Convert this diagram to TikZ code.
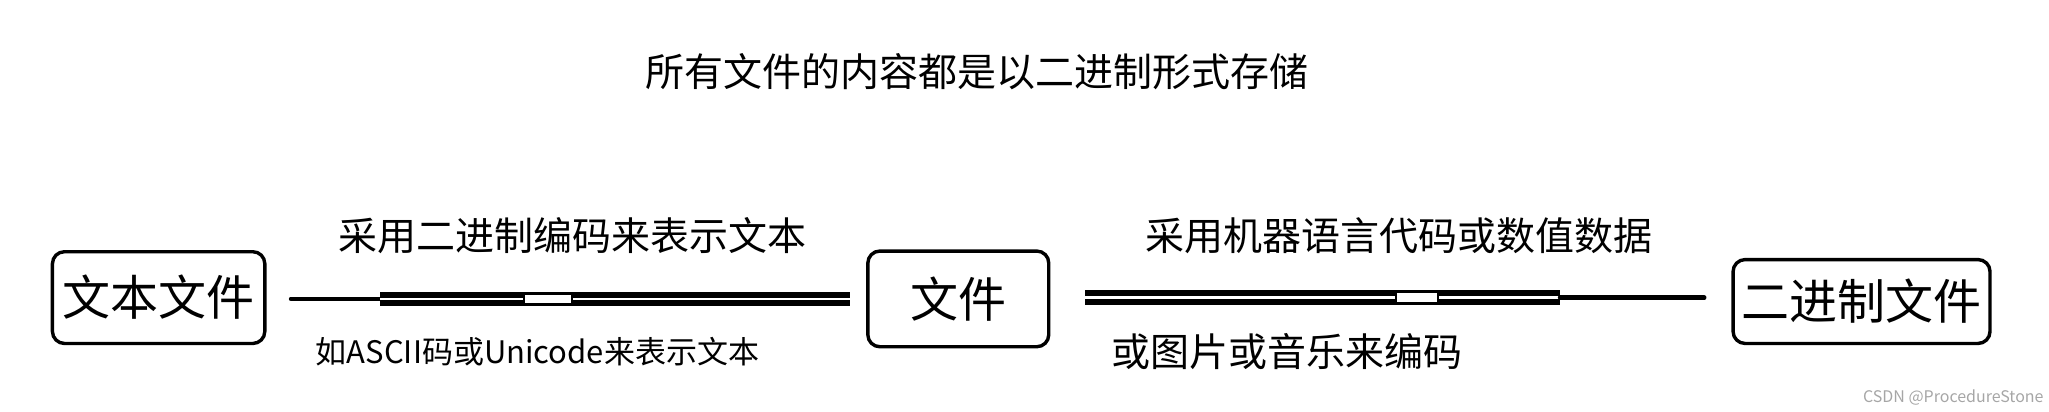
\documentclass[tikz,border=0pt]{standalone}
\usepackage{fontspec}
\setmainfont{Noto Sans CJK SC}
\begin{document}
\begin{tikzpicture}[x=1.311pt,y=-1.311pt,
  box/.style={draw,line width=3.4pt,rounded corners=12pt,inner sep=0pt},
  big/.style={font=\fontsize{48}{52}\selectfont},
  lab/.style={font=\fontsize{39}{42}\selectfont},
  sm/.style={font=\fontsize{31}{34}\selectfont},
  dbl/.style={line width=6pt,draw=black,double=white,double distance=2.5pt}]
\useasboundingbox (0,0) rectangle (1563,314);
\node[lab] (title) at (745,55) {所有文件的内容都是以二进制形式存储};
\node[box,big,minimum width=162pt*1.311,minimum height=70pt*1.311] (a) at (121,227) {文本文件};
\node[box,big,minimum width=138pt*1.311,minimum height=73pt*1.311] (b) at (731,228) {文件};
\node[box,big,minimum width=196pt*1.311,minimum height=64pt*1.311] (c) at (1420,230) {二进制文件};
\coordinate (a1) at (222,228); \coordinate (a2) at (290,228);
\coordinate (b1) at (828,227); \coordinate (b2) at (1190,227);
\draw[line width=4.5pt,line cap=round] (a1) -- (a2);
\draw[dbl] (a2) -- (648,228);
\draw[line width=2pt,fill=white] (400,224) rectangle (436,232);
\draw[dbl] (b1) -- (b2);
\draw[line width=2pt,fill=white] (1065,223) rectangle (1097,231);
\draw[line width=4.5pt,line cap=round] (b2) -- (1300,227);
\node[lab] (l1) at (437,180) {采用二进制编码来表示文本};
\node[sm] (l2) at (410,268) {如ASCII码或Unicode来表示文本};
\node[lab] (l3) at (1067,180) {采用机器语言代码或数值数据};
\node[lab] (l4) at (982,268) {或图片或音乐来编码};
\node[font=\fontsize{16}{18}\selectfont,text=gray!70] (w) at (1490,303) {CSDN @ProcedureStone};
\end{tikzpicture}
\end{document}
